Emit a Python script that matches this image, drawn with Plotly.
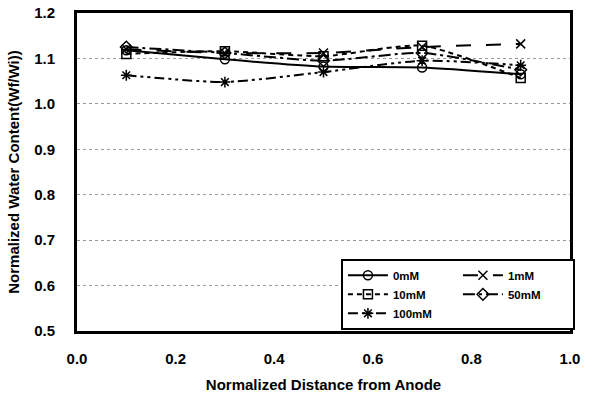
import plotly.graph_objects as go

x = [0.1, 0.3, 0.5, 0.7, 0.9]
series_names = ["0mM", "1mM", "10mM", "50mM", "100mM"]
y_0mM = [1.118, 1.098, 1.082, 1.080, 1.065]
y_1mM = [1.120, 1.112, 1.112, 1.125, 1.132]
y_10mM = [1.110, 1.116, 1.105, 1.128, 1.057]
y_50mM = [1.125, 1.112, 1.095, 1.112, 1.075]
y_100mM = [1.063, 1.048, 1.070, 1.095, 1.085]
x_ticks = [0.0, 0.2, 0.4, 0.6, 0.8, 1.0]
y_ticks = [0.5, 0.6, 0.7, 0.8, 0.9, 1.0, 1.1, 1.2]

styles = [
    dict(symbol="circle-open", dash="solid"),
    dict(symbol="x-thin-open", dash="longdash"),
    dict(symbol="square-open", dash="5px,4px"),
    dict(symbol="diamond-open", dash="12px,4px,3px,4px"),
    dict(symbol="asterisk-open", dash="10px,4px,3px,4px,3px,4px"),
]
data = [y_0mM, y_1mM, y_10mM, y_50mM, y_100mM]

FONT = "Arial, Liberation Sans, sans-serif"
fig = go.Figure()
for name, ys, st in zip(series_names, data, styles):
    fig.add_trace(go.Scatter(
        x=x, y=ys, name=name, mode="lines+markers",
        line=dict(color="black", width=2, dash=st["dash"], shape="spline", smoothing=0.6),
        marker=dict(symbol=st["symbol"], size=9, color="black", line=dict(width=1.5, color="black")),
    ))

fig.update_layout(
    width=592, height=398,
    margin=dict(l=77, r=22, t=13, b=67),
    paper_bgcolor="white", plot_bgcolor="white",
    font=dict(family=FONT, size=15, color="black", weight="bold"),
    showlegend=True,
    legend=dict(
        orientation="h", x=1.01, xanchor="right", y=0.227, yanchor="top",
        entrywidth=60, itemwidth=40,
        bgcolor="white", bordercolor="black", borderwidth=2,
        font=dict(family=FONT, size=11.5, color="black", weight="bold"),
        tracegroupgap=0,
    ),
    xaxis=dict(
        range=[0, 1.0], tickvals=x_ticks, ticktext=[f"{v:.1f}" for v in x_ticks],
        showgrid=False, zeroline=False, automargin=False,
        showline=True, linecolor="black", linewidth=3, mirror=True,
        ticks="", ticklabelstandoff=12,
        tickfont=dict(size=15, weight="bold"),
        title=dict(text="Normalized Distance from Anode", font=dict(size=15, weight="bold"), standoff=14),
    ),
    yaxis=dict(
        range=[0.5, 1.2], tickvals=y_ticks, ticktext=[f"{v:.1f}" for v in y_ticks],
        showgrid=True, gridcolor="#999999", griddash="dot", gridwidth=1,
        zeroline=False, automargin=False,
        showline=True, linecolor="black", linewidth=3, mirror=True,
        ticks="", ticklabelstandoff=16,
        tickfont=dict(size=15, weight="bold"),
        title=dict(text="Normalized Water Content(Wf/Wi))", font=dict(size=15, weight="bold"), standoff=11),
    ),
)

fig.write_html("out.html")
